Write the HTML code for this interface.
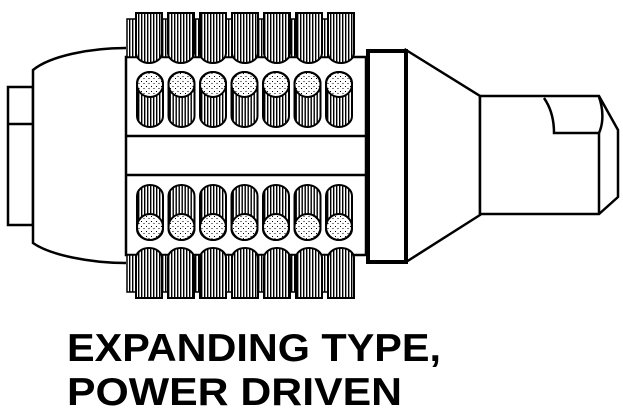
<!DOCTYPE html>
<html><head><meta charset="utf-8"><style>html,body{margin:0;padding:0;background:#fff}svg{display:block}</style></head><body>
<svg width="623" height="409" viewBox="0 0 623 409" xmlns="http://www.w3.org/2000/svg">
<defs>
<pattern id="h" width="3" height="6" patternUnits="userSpaceOnUse"><rect width="3" height="6" fill="#fff"/><rect width="1.4" height="6" fill="#000"/></pattern>
<pattern id="d" width="5" height="5" patternUnits="userSpaceOnUse"><rect width="5" height="5" fill="#fff"/><rect x="1" y="1" width="1" height="1" fill="#000"/><rect x="3.5" y="3" width="1" height="1" fill="#000"/></pattern>
</defs>
<g fill="none" stroke="#000" stroke-width="2.5">
<rect x="8" y="87" width="25" height="138" fill="#fff"/>
<line x1="8" y1="124" x2="33" y2="124"/>
<path d="M126 48 C90 48 50 56 33 70 L33 243 C50 255 90 263 126 263" fill="#fff"/>
<rect x="126" y="57" width="240" height="198" fill="#fff"/>
<line x1="126" y1="136" x2="366" y2="136"/>
<line x1="126" y1="175" x2="366" y2="175"/>
<rect x="127" y="19" width="226" height="38" fill="url(#h)" stroke-width="1.5"/>
<rect x="127" y="255" width="226" height="37" fill="url(#h)" stroke-width="1.5"/>
</g>
<g stroke="#000" stroke-width="2">
<g fill="url(#h)">
<path d="M136 13 H162 V53 A13 10 0 0 1 136 53 Z"/>
<path d="M168 13 H194 V53 A13 10 0 0 1 168 53 Z"/>
<path d="M200 13 H226 V53 A13 10 0 0 1 200 53 Z"/>
<path d="M232 13 H258 V53 A13 10 0 0 1 232 53 Z"/>
<path d="M264 13 H290 V53 A13 10 0 0 1 264 53 Z"/>
<path d="M296 13 H322 V53 A13 10 0 0 1 296 53 Z"/>
<path d="M328 13 H354 V53 A13 10 0 0 1 328 53 Z"/>
<path d="M136 298 H162 V258 A13 10 0 0 0 136 258 Z"/>
<path d="M168 298 H194 V258 A13 10 0 0 0 168 258 Z"/>
<path d="M200 298 H226 V258 A13 10 0 0 0 200 258 Z"/>
<path d="M232 298 H258 V258 A13 10 0 0 0 232 258 Z"/>
<path d="M264 298 H290 V258 A13 10 0 0 0 264 258 Z"/>
<path d="M296 298 H322 V258 A13 10 0 0 0 296 258 Z"/>
<path d="M328 298 H354 V258 A13 10 0 0 0 328 258 Z"/>
</g>
<g id="ir">
<rect x="137" y="72" width="26" height="55" rx="13" ry="11" fill="url(#h)"/>
<ellipse cx="150" cy="84.5" rx="13" ry="12.5" fill="url(#d)"/>
</g>
<use href="#ir" x="31.5"/><use href="#ir" x="63"/><use href="#ir" x="94.5"/><use href="#ir" x="126"/><use href="#ir" x="157.5"/><use href="#ir" x="189"/>
<g id="ib">
<rect x="137" y="185" width="26" height="55" rx="13" ry="11" fill="url(#h)"/>
<ellipse cx="150" cy="227" rx="13" ry="13" fill="url(#d)"/>
</g>
<use href="#ib" x="31.5"/><use href="#ib" x="63"/><use href="#ib" x="94.5"/><use href="#ib" x="126"/><use href="#ib" x="157.5"/><use href="#ib" x="189"/>
</g>
<g fill="#fff" stroke="#000" stroke-width="2.5">
<path d="M406 50 L480 96 L480 215 L406 262 Z"/>
<rect x="368" y="51" width="38" height="211" stroke-width="4"/>
<path d="M480 96 H599 L618 130 V197 L599 214 H480 Z"/>
<line x1="599" y1="133" x2="599" y2="214"/>
<path d="M544 98 C551 108 554 120 554 133 H599 C604 122 603 108 599 97" fill="none"/>
</g>
<g font-family="Liberation Sans, sans-serif" font-weight="bold" font-size="39" fill="#000">
<text x="67" y="361" textLength="374" lengthAdjust="spacingAndGlyphs">EXPANDING TYPE,</text>
<text x="67" y="405" textLength="335" lengthAdjust="spacingAndGlyphs">POWER DRIVEN</text>
</g>
</svg>
</body></html>
